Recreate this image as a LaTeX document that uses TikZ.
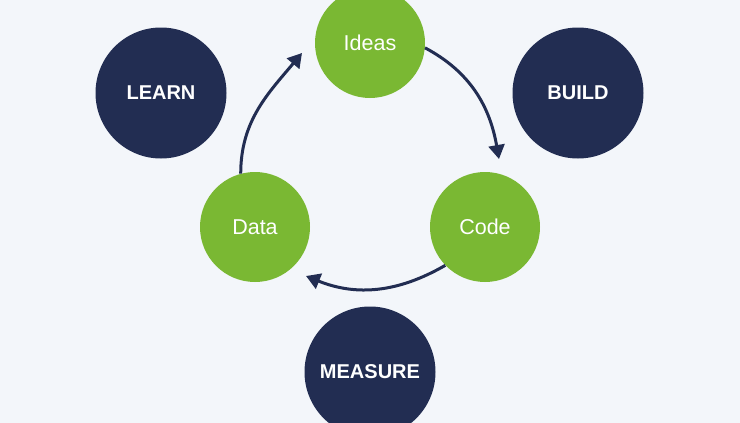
\documentclass[tikz,border=0pt]{standalone}
\usepackage{fontspec}
\setmainfont{Liberation Sans}
\usetikzlibrary{arrows.meta}
\definecolor{bg}{HTML}{F3F6FA}
\definecolor{navy}{HTML}{222D52}
\definecolor{leaf}{HTML}{7AB833}
\tikzset{
  green circ/.style={circle, fill=leaf, minimum size=110pt, inner sep=0pt, text=white, font=\fontsize{21.5}{25}\selectfont},
  navy circ/.style={circle, fill=navy, minimum size=131pt, inner sep=0pt, text=white, font=\bfseries\fontsize{20}{24}\selectfont},
  flow/.style={draw=navy, line width=3pt, -{Triangle[length=14pt,width=16pt]}},
}
\begin{document}
\begin{tikzpicture}[x=1pt,y=-1pt]
\fill[bg] (0,0) rectangle (740,423);
\useasboundingbox (0,0) rectangle (740,423);
\node[green circ] (ideas) at (370,43) {Ideas};
\node[green circ] (code) at (485,227) {Code};
\node[green circ] (data) at (255,227) {Data};
\node[navy circ] (learn) at (161,93) {LEARN};
\node[navy circ] (build) at (578,93) {BUILD};
\node[navy circ] (measure) at (370,372) {MEASURE};
\coordinate (t1) at (499,159);
\coordinate (t2) at (306,276);
\coordinate (t3) at (302,53);
\draw[flow] (ideas.{-5}) to[out=-28,in=100] (t1);
\draw[flow] (code.{-136}) to[out=210,in=-22] (t2);
\draw[flow] (data.{105}) to[out=90,in=230] (t3);
\end{tikzpicture}
\end{document}
